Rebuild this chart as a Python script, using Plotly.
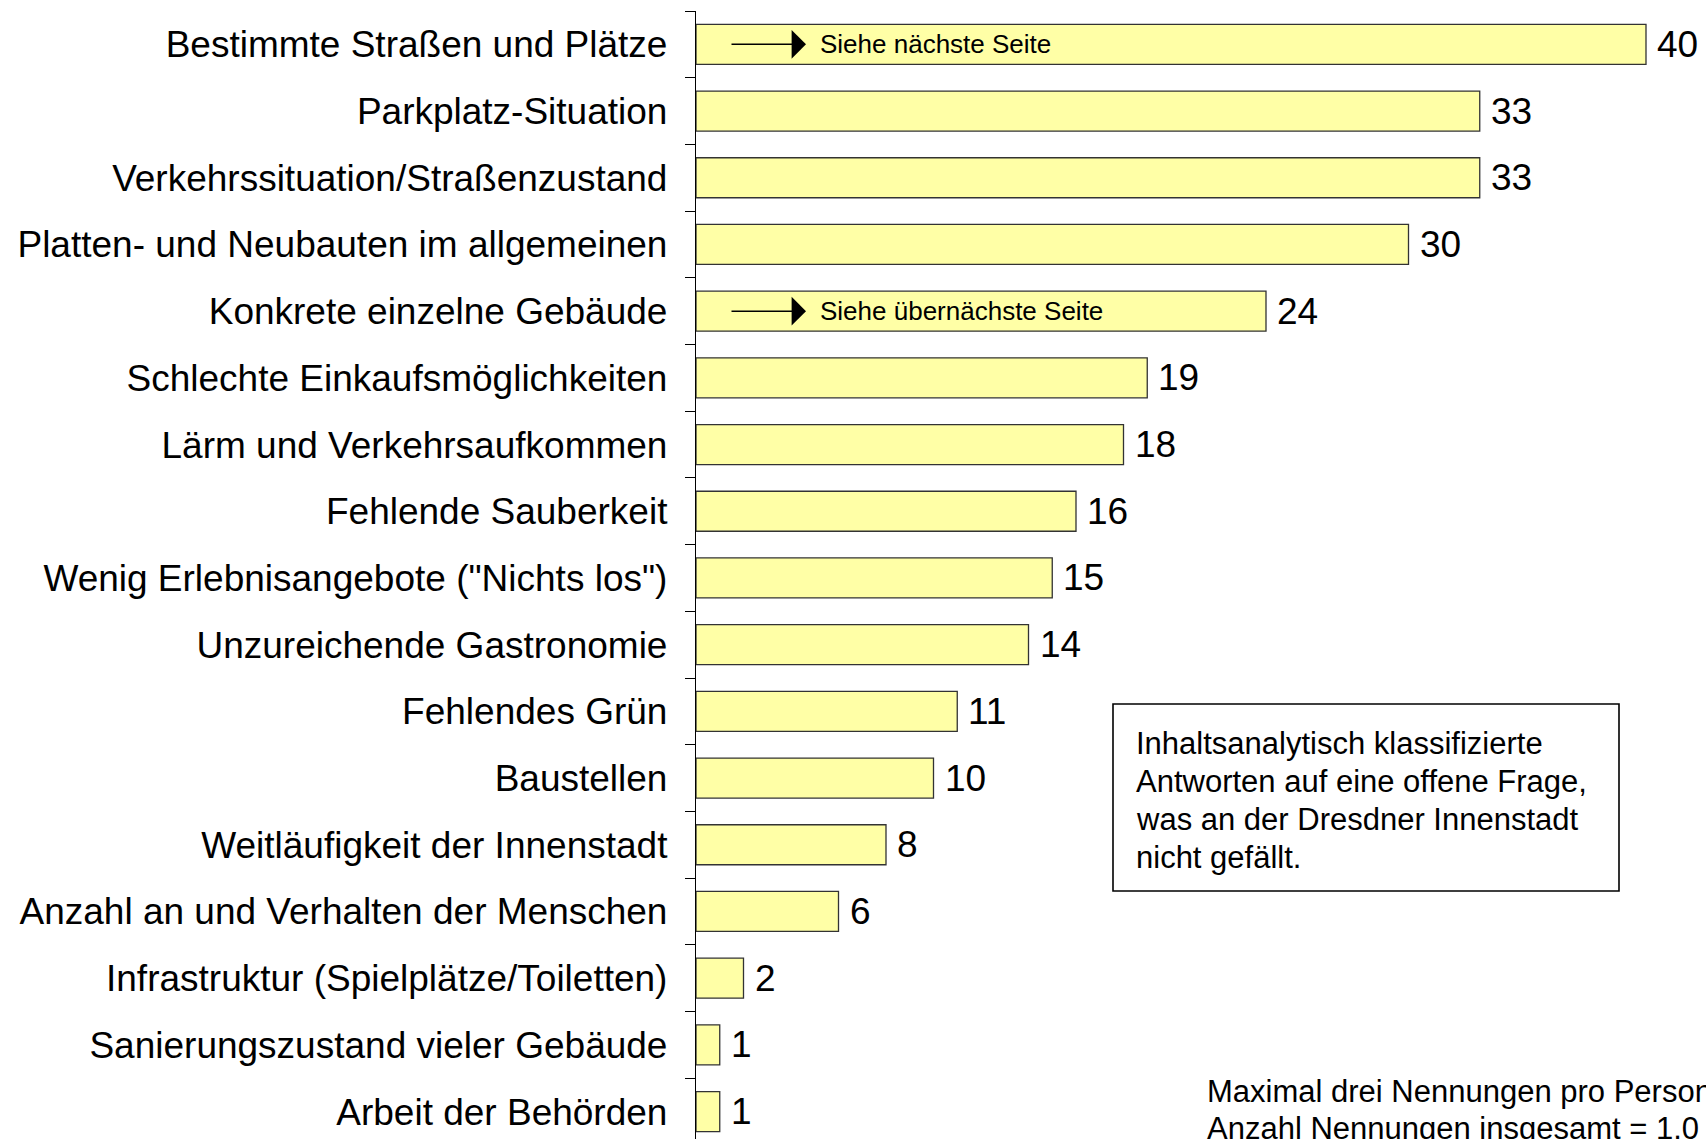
import plotly.graph_objects as go

categories = [
    "Bestimmte Straßen und Plätze",
    "Parkplatz-Situation",
    "Verkehrssituation/Straßenzustand",
    "Platten- und Neubauten im allgemeinen",
    "Konkrete einzelne Gebäude",
    "Schlechte Einkaufsmöglichkeiten",
    "Lärm und Verkehrsaufkommen",
    "Fehlende Sauberkeit",
    "Wenig Erlebnisangebote (\"Nichts los\")",
    "Unzureichende Gastronomie",
    "Fehlendes Grün",
    "Baustellen",
    "Weitläufigkeit der Innenstadt",
    "Anzahl an und Verhalten der Menschen",
    "Infrastruktur (Spielplätze/Toiletten)",
    "Sanierungszustand vieler Gebäude",
    "Arbeit der Behörden",
]
values = [40, 33, 33, 30, 24, 19, 18, 16, 15, 14, 11, 10, 8, 6, 2, 1, 1]

bar_notes = {
    "Bestimmte Straßen und Plätze": "Siehe nächste Seite",
    "Konkrete einzelne Gebäude": "Siehe übernächste Seite",
}
box_lines = [
    "Inhaltsanalytisch klassifizierte",
    "Antworten auf eine offene Frage,",
    "was an der Dresdner Innenstadt",
    "nicht gefällt.",
]
footnote_lines = [
    "Maximal drei Nennungen pro Person",
    "Anzahl Nennungen insgesamt = 1.0",
]

W, H = 1706, 1139
ML, MR, MT, MB = 696, 0, 11, 0
PW, PH = W - ML - MR, H - MT - MB
PX_PER_UNIT = 23.75
ROW = 66.7

FONT = "Liberation Sans, Arial, Helvetica, sans-serif"


def px_x(px):
    return (px - ML) / PW


def px_y(py):
    return (H - MB - py) / PH


fig = go.Figure()
fig.add_trace(go.Bar(
    x=values,
    y=categories,
    orientation="h",
    marker=dict(color="#FFFFA6", line=dict(color="#333333", width=1.3)),
    hoverinfo="x+y",
))

annotations = []
# value labels
for c, v in zip(categories, values):
    annotations.append(dict(
        x=v, y=c, xref="x", yref="y", text=str(v), showarrow=False,
        xanchor="left", yanchor="middle", xshift=9,
        font=dict(family=FONT, size=37, color="black"),
    ))

# arrows and notes inside bars
for c, note in bar_notes.items():
    annotations.append(dict(
        x=(806 - ML) / PX_PER_UNIT, y=c, xref="x", yref="y", text="",
        showarrow=True, ax=-76, ay=0, axref="pixel", ayref="pixel",
        arrowhead=1, arrowsize=3.2, arrowwidth=1.5, arrowcolor="black",
        standoff=0, startstandoff=0,
    ))
    annotations.append(dict(
        x=(818 - ML) / PX_PER_UNIT, y=c, xref="x", yref="y", text=note,
        showarrow=False, xanchor="left", yanchor="middle",
        font=dict(family=FONT, size=26, color="black"),
    ))

# boxed text
for i, line in enumerate(box_lines):
    annotations.append(dict(
        x=px_x(1134), y=px_y(743 + 38 * i), xref="paper", yref="paper",
        text=line, showarrow=False, xanchor="left", yanchor="middle",
        font=dict(family=FONT, size=31, color="black"),
    ))

for i, line in enumerate(footnote_lines):
    annotations.append(dict(
        x=px_x(1205), y=px_y(1091 + 37 * i), xref="paper", yref="paper",
        text=line, showarrow=False, xanchor="left", yanchor="middle",
        font=dict(family=FONT, size=31, color="black"),
    ))

shapes = [dict(
    type="rect", xref="paper", yref="paper",
    x0=px_x(1113), x1=px_x(1619), y0=px_y(891), y1=px_y(704),
    line=dict(color="black", width=1.6), fillcolor="rgba(0,0,0,0)",
)]

fig.update_layout(
    width=W, height=H,
    margin=dict(l=ML, r=MR, t=MT, b=MB, pad=0),
    paper_bgcolor="white", plot_bgcolor="white",
    showlegend=False,
    bargap=0.4,
    font=dict(family=FONT, color="black"),
    annotations=annotations,
    shapes=shapes,
    xaxis=dict(visible=False, range=[0, PW / PX_PER_UNIT], fixedrange=True),
    yaxis=dict(
        type="category",
        categoryorder="array", categoryarray=categories,
        range=[-0.5 + PH / ROW, -0.5],
        showline=True, linecolor="black", linewidth=1.3,
        ticks="outside", tickson="boundaries", ticklen=10, tickcolor="black",
        tickwidth=1.3,
        showgrid=False, zeroline=False,
        tickfont=dict(family=FONT, size=37, color="black"),
        ticklabelstandoff=20,
        fixedrange=True,
    ),
)

fig.write_html(
    "out.html",
    config={"displayModeBar": False},
    post_script="document.body.style.margin='0';document.body.style.overflow='hidden';",
)
